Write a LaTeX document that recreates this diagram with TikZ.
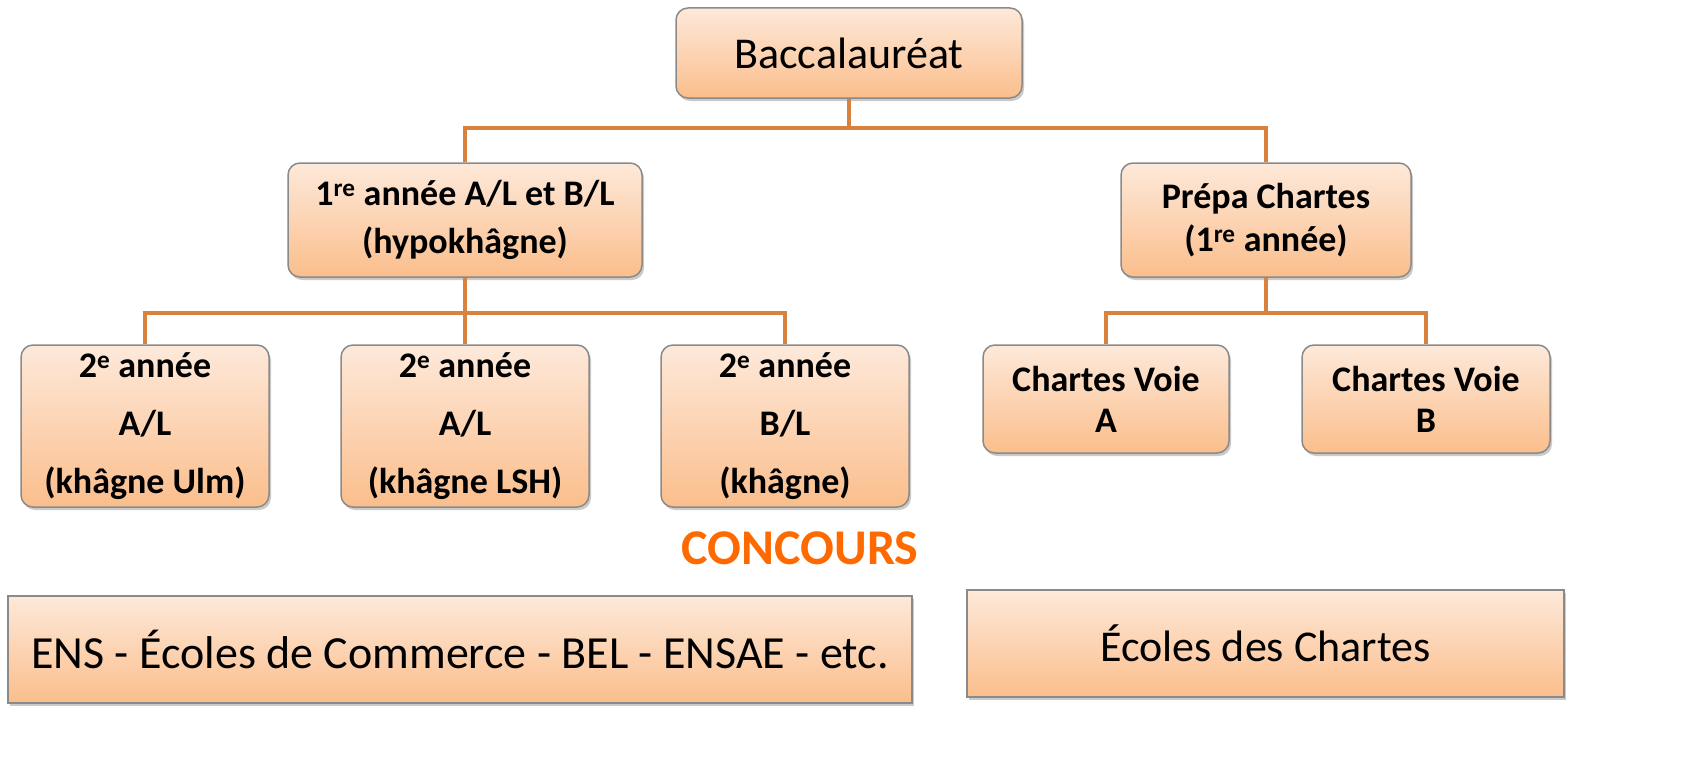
\documentclass[tikz,border=0pt]{standalone}
\usepackage{fontspec}
\setmainfont{Carlito}
\usetikzlibrary{shadows}
\definecolor{peachtop}{HTML}{FDE9DA}
\definecolor{peachbot}{HTML}{FBBE8C}
\definecolor{boxgray}{HTML}{8A8A8A}
\definecolor{conncol}{HTML}{D9823E}
\definecolor{concours}{HTML}{FF6A00}
\tikzset{
  basebox/.style={draw=boxgray, line width=1.5pt, top color=peachtop, bottom color=peachbot,
    align=center, inner sep=0pt, text=black,
    drop shadow={shadow xshift=2pt, shadow yshift=-3pt, opacity=0.35, fill=black!60}},
  rbox/.style={basebox, rounded corners=12pt},
  sbox/.style={basebox},
  conn/.style={draw=conncol, line width=4pt},
  regtxt/.style={font=\fontsize{44}{52}\selectfont},
  boldtxt/.style={font=\fontsize{36}{48}\selectfont\bfseries},
}
\begin{document}
\begin{tikzpicture}[x=1pt,y=-1pt]
\useasboundingbox (0,0) rectangle (1692,760);
\coordinate (j1) at (849,128);
\coordinate (j2) at (465,313);
\coordinate (j3) at (1266,313);
\node[rbox, regtxt, minimum width=346pt, minimum height=90pt] (bac) at (849,53) {Baccalaur\'eat};
\node[rbox, boldtxt, minimum width=354pt, minimum height=114pt] (p1) at (465,220) {1\textsuperscript{re} ann\'ee A/L et B/L\\(hypokh\^agne)};
\node[rbox, boldtxt, font=\fontsize{36}{43}\selectfont\bfseries, minimum width=290pt, minimum height=114pt] (pc) at (1266,220) {Pr\'epa Chartes\\(1\textsuperscript{re} ann\'ee)};
\node[rbox, boldtxt, font=\fontsize{36}{58}\selectfont\bfseries, minimum width=248pt, minimum height=162pt] (k1) at (145,426) {2\textsuperscript{e} ann\'ee\\A/L\\(kh\^agne Ulm)};
\node[rbox, boldtxt, font=\fontsize{36}{58}\selectfont\bfseries, minimum width=248pt, minimum height=162pt] (k2) at (465,426) {2\textsuperscript{e} ann\'ee\\A/L\\(kh\^agne LSH)};
\node[rbox, boldtxt, font=\fontsize{36}{58}\selectfont\bfseries, minimum width=248pt, minimum height=162pt] (k3) at (785,426) {2\textsuperscript{e} ann\'ee\\B/L\\(kh\^agne)};
\node[rbox, boldtxt, font=\fontsize{36}{41}\selectfont\bfseries, minimum width=246pt, minimum height=108pt] (ca) at (1106,399) {Chartes Voie\\A};
\node[rbox, boldtxt, font=\fontsize{36}{41}\selectfont\bfseries, minimum width=248pt, minimum height=108pt] (cb) at (1426,399) {Chartes Voie\\B};
\node[font=\fontsize{50}{56}\selectfont\bfseries, text=concours, inner sep=0pt] (conc) at (800,548) {CONCOURS};
\node[sbox, font=\fontsize{46}{52}\selectfont, minimum width=904pt, minimum height=107pt] (ens) at (460,649.5) {ENS - \'Ecoles de Commerce - BEL - ENSAE - etc.};
\node[sbox, regtxt, minimum width=597pt, minimum height=107pt] (edc) at (1265.5,643.5) {\'Ecoles des Chartes};
\draw[conn] (bac.south) -- (j1);
\draw[conn] (j1) -| (p1.north);
\draw[conn] (j1) -| (pc.north);
\draw[conn] (p1.south) -- (j2);
\draw[conn] (j2) -| (k1.north);
\draw[conn] (j2) -| (k3.north);
\draw[conn] (j2) -- (k2.north);
\draw[conn] (pc.south) -- (j3);
\draw[conn] (j3) -| (ca.north);
\draw[conn] (j3) -| (cb.north);
\end{tikzpicture}
\end{document}
